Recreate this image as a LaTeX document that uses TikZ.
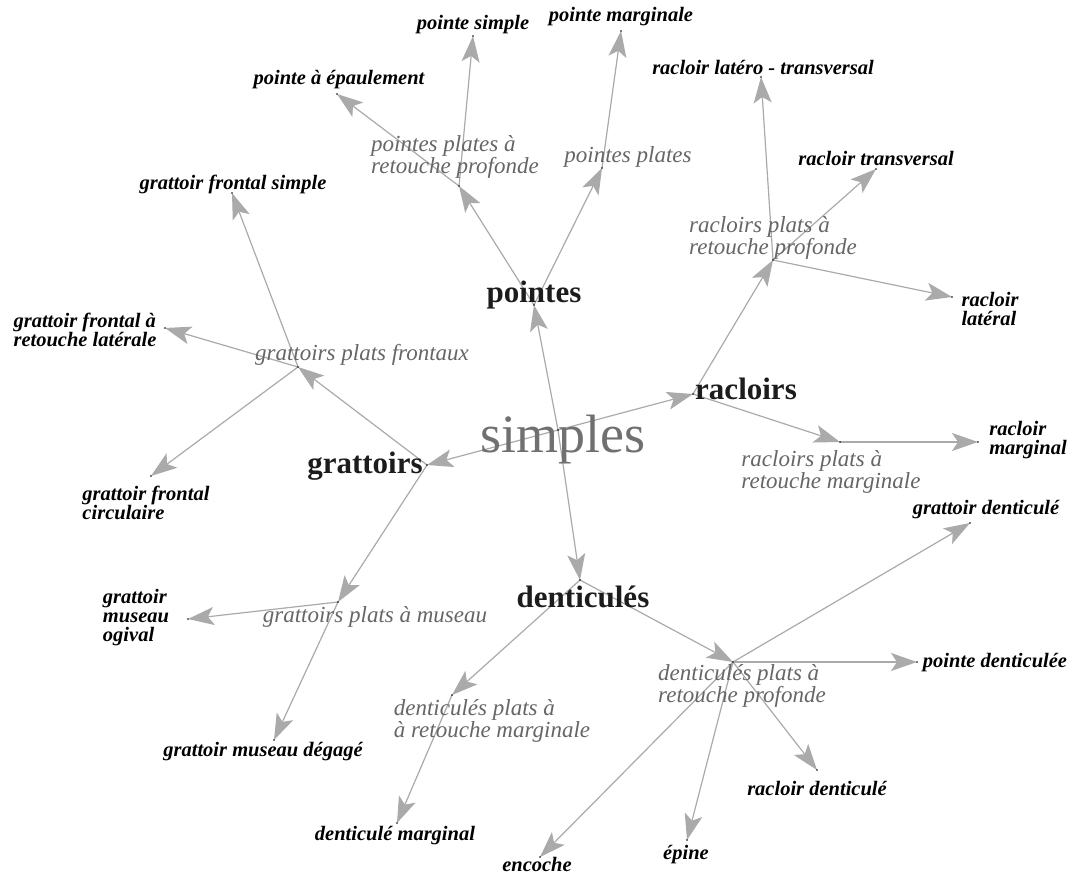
\documentclass[tikz,border=0pt]{standalone}
\usepackage{fontspec}
\setmainfont{Liberation Serif}
\usetikzlibrary{arrows.meta}
\definecolor{linegray}{HTML}{AAAAAA}
\definecolor{midgray}{HTML}{666666}
\definecolor{rootgray}{HTML}{707070}
\definecolor{darktext}{HTML}{1C1C1C}
\begin{document}
\begin{tikzpicture}[x=1pt,y=-1pt,
  edge/.style={draw=linegray, line width=1.2pt, -{Stealth[length=26pt,width=18pt,inset=6pt,fill=linegray]}},
  pt/.style={fill=black},
  leaf/.style={inner sep=0pt, align=left, text=black, font=\fontsize{20.5}{19}\selectfont\bfseries\itshape},
  mid/.style={inner sep=0pt, align=left, text=midgray, font=\fontsize{23}{19}\selectfont\itshape},
  top/.style={inner sep=0pt, text=darktext, font=\fontsize{31}{31}\selectfont\bfseries},
  rootlbl/.style={inner sep=0pt, text=rootgray, font=\fontsize{54}{54}\selectfont}]
\useasboundingbox (0,0) rectangle (1075,874);
\fill[white] (0,0) rectangle (1075,874);

% points
\coordinate (R) at (558,430);
\coordinate (P) at (534,305);
\coordinate (Rc) at (693,394);
\coordinate (G) at (427,465);
\coordinate (D) at (580,580);
\coordinate (PP1) at (459,186);
\coordinate (PP2) at (602,168);
\coordinate (RP1) at (773,260);
\coordinate (RP2) at (840,442);
\coordinate (GP1) at (298,367);
\coordinate (GP2) at (338,602);
\coordinate (DP1) at (733,662);
\coordinate (DP2) at (452,695);
\coordinate (pEp) at (337,94);
\coordinate (pSi) at (473,36);
\coordinate (pMa) at (621,31);
\coordinate (rLT) at (761,77);
\coordinate (rTr) at (876,169);
\coordinate (rLa) at (952,297);
\coordinate (rMa) at (978,442);
\coordinate (gFS) at (232,193);
\coordinate (gFR) at (165,328);
\coordinate (gFC) at (151,476);
\coordinate (gMO) at (188,619);
\coordinate (gMD) at (274,740);
\coordinate (dMa) at (397,823);
\coordinate (dEn) at (540,857);
\coordinate (dEp) at (687,840);
\coordinate (dRa) at (817,770);
\coordinate (dPo) at (917,662);
\coordinate (dGr) at (970,523);

% edges
\draw[edge] (R) -- (P);
\draw[edge] (R) -- (Rc);
\draw[edge] (R) -- (G);
\draw[edge] (R) -- (D);
\draw[edge] (P) -- (PP1);
\draw[edge] (P) -- (PP2);
\draw[edge] (PP1) -- (pEp);
\draw[edge] (PP1) -- (pSi);
\draw[edge] (PP2) -- (pMa);
\draw[edge] (Rc) -- (RP1);
\draw[edge] (Rc) -- (RP2);
\draw[edge] (RP1) -- (rLT);
\draw[edge] (RP1) -- (rTr);
\draw[edge] (RP1) -- (rLa);
\draw[edge] (RP2) -- (rMa);
\draw[edge] (G) -- (GP1);
\draw[edge] (G) -- (GP2);
\draw[edge] (GP1) -- (gFS);
\draw[edge] (GP1) -- (gFR);
\draw[edge] (GP1) -- (gFC);
\draw[edge] (GP2) -- (gMO);
\draw[edge] (GP2) -- (gMD);
\draw[edge] (D) -- (DP1);
\draw[edge] (D) -- (DP2);
\draw[edge] (DP1) -- (dGr);
\draw[edge] (DP1) -- (dPo);
\draw[edge] (DP1) -- (dRa);
\draw[edge] (DP1) -- (dEp);
\draw[edge] (DP1) -- (dEn);
\draw[edge] (DP2) -- (dMa);

% dots
\foreach \c in {R,P,Rc,G,D,PP1,PP2,RP1,RP2,GP1,GP2,DP1,DP2,pEp,pSi,pMa,rLT,rTr,rLa,rMa,gFS,gFR,gFC,gMO,gMD,dMa,dEn,dEp,dRa,dPo,dGr}
  \fill[pt] (\c) circle (0.8pt);

% labels
\node[rootlbl] (lR) at (563,440) {simples};
\node[top] (lP) at (534,295) {pointes};
\node[top] (lRc) at (746,389) {racloirs};
\node[top] (lG) at (365,466) {grattoirs};
\node[top] (lD) at (583,597) {denticulés};

\node[mid] (lPP1) at (455,157) {pointes plates à\\retouche profonde};
\node[mid] (lPP2) at (628,157) {pointes plates};
\node[mid] (lRP1) at (773,238) {racloirs plats à\\retouche profonde};
\node[mid] (lRP2) at (831,472) {racloirs plats à\\retouche marginale};
\node[mid] (lGP1) at (362,355) {grattoirs plats frontaux};
\node[mid] (lGP2) at (375,617) {grattoirs plats à museau};
\node[mid] (lDP1) at (742,686) {denticulés plats à\\retouche profonde};
\node[mid] (lDP2) at (492,721) {denticulés plats à\\à retouche marginale};

\node[leaf] (lpEp) at (339,80) {pointe à épaulement};
\node[leaf] (lpSi) at (473,25) {pointe simple};
\node[leaf] (lpMa) at (621,17) {pointe marginale};
\node[leaf] (lrLT) at (763,67) {racloir latéro - transversal};
\node[leaf] (lrTr) at (876,158) {racloir transversal};
\node[leaf] (lrLa) at (990,309) {racloir\\latéral};
\node[leaf] (lrMa) at (1028,440) {racloir\\marginal};
\node[leaf] (lgFS) at (233,184) {grattoir frontal simple};
\node[leaf] (lgFR) at (85,330) {grattoir frontal à\\retouche latérale};
\node[leaf] (lgFC) at (146,503) {grattoir frontal\\circulaire};
\node[leaf] (lgMO) at (136,618) {grattoir\\museau\\ogival};
\node[leaf] (lgMD) at (263,752) {grattoir museau dégagé};
\node[leaf] (ldMa) at (395,836) {denticulé marginal};
\node[leaf] (ldEn) at (537,864) {encoche};
\node[leaf] (ldEp) at (686,855) {épine};
\node[leaf] (ldRa) at (817,788) {racloir denticulé};
\node[leaf] (ldPo) at (995,663) {pointe denticulée};
\node[leaf] (ldGr) at (986,510) {grattoir denticulé};
\end{tikzpicture}
\end{document}
